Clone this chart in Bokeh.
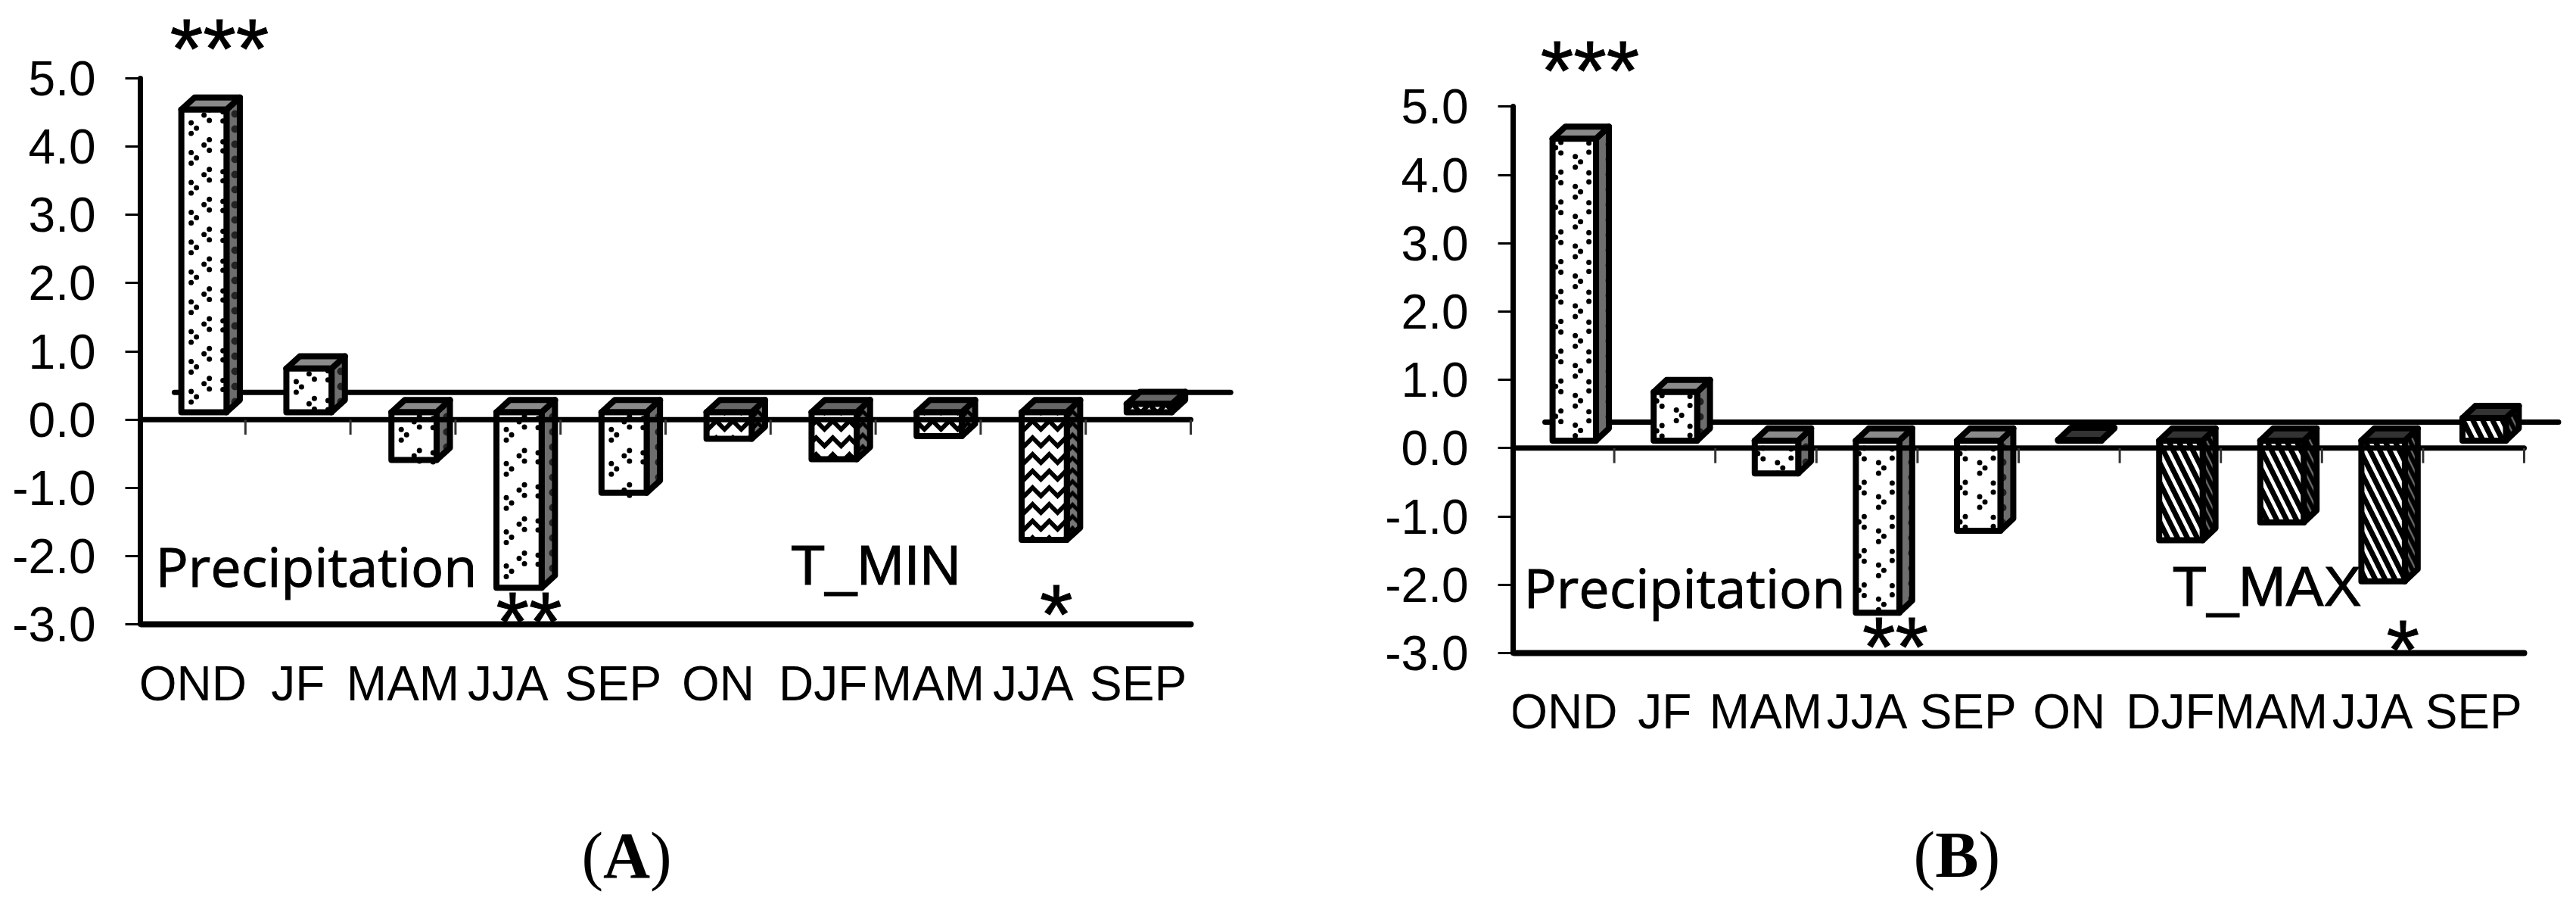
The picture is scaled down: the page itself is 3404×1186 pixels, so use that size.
from bokeh.plotting import figure
from bokeh.layouts import row
from bokeh.models import FixedTicker, Range1d, NumeralTickFormatter
from bokeh.core.properties import value
from bokeh.embed import file_html
from bokeh.resources import INLINE

seasons_a = ["OND", "JF", "MAM", "JJA", "SEP", "ON", "DJF", "MAM", "JJA", "SEP"]
values_a = [4.54, 0.75, -0.59, -2.46, -1.07, -0.28, -0.58, -0.24, -1.76, 0.23]
seasons_b = ["OND", "JF", "MAM", "JJA", "SEP", "ON", "DJF", "MAM", "JJA", "SEP"]
values_b = [4.53, 0.82, -0.37, -2.41, -1.21, 0.12, -1.35, -1.09, -1.95, 0.44]
y_ticks = [-3, -2, -1, 0, 1, 2, 3, 4, 5]

BASE = 0.11
PPU = 90.2
H = 1180
LIFT = 0.43  # em, renderer places the alphabetic baseline this far under the anchor
STAR = 112
ASCENT = 0.995


def lifted(y, size):
    return y + LIFT * size / PPU


def chart(seasons, values, cat_w, frame_left, zero_px, fig_w, back_y, back_x,
          t_hatch, t_scale, t_weight, t_top, stars, names, caption, dot_cols):
    p = figure(width=fig_w, height=H, output_backend="svg", toolbar_location=None,
               x_range=Range1d(0, (fig_w - frame_left) / cat_w),
               y_range=Range1d(-(H - zero_px) / PPU, zero_px / PPU),
               min_border_left=frame_left, min_border_right=0, min_border_top=0,
               min_border_bottom=0, outline_line_color=None,
               background_fill_color="white", border_fill_color="white")
    p.grid.visible = False

    p.xaxis.fixed_location = -3
    p.xaxis.bounds = (0, 10)
    p.xaxis.ticker = FixedTicker(ticks=[i + 0.5 for i in range(10)])
    p.xaxis.major_label_overrides = {i + 0.5: s for i, s in enumerate(seasons)}
    p.xaxis.major_label_text_font = "Liberation Sans"
    p.xaxis.major_label_text_font_size = "64px"
    p.xaxis.major_label_text_color = "black"
    p.xaxis.major_label_standoff = 36
    p.xaxis.major_tick_line_color = None
    p.xaxis.minor_tick_line_color = None
    p.xaxis.axis_line_width = 8
    p.xaxis.axis_line_color = "black"
    p.xaxis.axis_line_cap = "round"

    p.yaxis.bounds = (-3, 5)
    p.yaxis.ticker = FixedTicker(ticks=y_ticks)
    p.yaxis.formatter = NumeralTickFormatter(format="0.0")
    p.yaxis.major_label_text_font = "Liberation Sans"
    p.yaxis.major_label_text_font_size = "64px"
    p.yaxis.major_label_text_color = "black"
    p.yaxis.major_label_standoff = 39
    p.yaxis.major_tick_out = 20
    p.yaxis.major_tick_in = 0
    p.yaxis.major_tick_line_width = 3
    p.yaxis.major_tick_line_color = "black"
    p.yaxis.minor_tick_line_color = None
    p.yaxis.axis_line_width = 7
    p.yaxis.axis_line_color = "black"
    p.yaxis.axis_line_cap = "round"

    # back wall line of the 3-D floor
    p.segment(back_x[0], back_y, back_x[1], back_y, line_width=7, line_color="black", line_cap="round")

    L, R, DX, DY = 0.39, 0.82, 0.127, 0.178
    px_x, px_y = 1 / cat_w, 1 / PPU
    dx, dy = [], []
    for i, v in enumerate(values):
        x0, x1 = i + L, i + R
        lo, hi = (BASE, v) if v > 0 else (v, BASE)
        is_prec = i < 5
        top_col = "#8a8a8a" if is_prec else t_top
        kw = dict(line_color="black", line_width=8, line_join="round")
        if is_prec:
            p.patch([x1, x1 + DX, x1 + DX, x1], [lo, lo + DY, hi + DY, hi], fill_color="#6e6e6e",
                    hatch_pattern="dot", hatch_color="#222222", hatch_scale=20, hatch_weight=2, **kw)
        else:
            p.patch([x1, x1 + DX, x1 + DX, x1], [lo, lo + DY, hi + DY, hi], fill_color="#777777",
                    hatch_pattern=t_hatch, hatch_color="black", hatch_scale=t_scale * 0.7,
                    hatch_weight=max(1, t_weight - 1), **kw)
        p.patch([x0, x1, x1 + DX, x0 + DX], [hi, hi, hi + DY, hi + DY], fill_color=top_col, **kw)
        if is_prec:
            p.quad(left=x0, right=x1, bottom=lo, top=hi, fill_color="white", **kw)
            # sparse staggered pattern of the reference: small three-dot chevrons
            pitch = 0.437 if v > 0 else 0.5
            for rel, first, sgn in dot_cols:
                k = 0
                start = hi - (first if v > 0 else first + 0.06)
                yy = start
                while yy - 0.03 > lo:
                    cx = x0 + rel * px_x
                    if sgn == 0:
                        dx += [cx, cx]
                        dy += [yy + 6 * px_y, yy - 6 * px_y]
                    else:
                        dx += [cx, cx + sgn * 7 * px_x, cx]
                        dy += [yy + 7 * px_y, yy, yy - 7 * px_y]
                    k += 1
                    yy = start - pitch * k
        else:
            p.quad(left=x0, right=x1, bottom=lo, top=hi, fill_color="white",
                   hatch_pattern=t_hatch, hatch_color="black", hatch_scale=t_scale, hatch_weight=t_weight, **kw)
    p.scatter(dx, dy, size=7, marker="circle", fill_color="black", line_color="black", line_width=0)

    # zero line and its ticks, drawn over the bars
    p.segment(0, 0, 10, 0, line_width=7, line_color="black", line_cap="round")
    p.segment(list(range(1, 11)), [0] * 10, list(range(1, 11)), [-0.22] * 10,
              line_width=3, line_color="#333333")

    for text, x, y in stars:
        p.text([x], [y + ASCENT * STAR / PPU], text=[text], text_font=value("Liberation Sans"),
               text_font_size=f"{STAR}px", text_color="black", text_outline_color="black",
               text_align="center", text_baseline="top")
    for text, x, y, font, size in names:
        p.text([x], [lifted(y, size)], text=[text], text_font=value(font), text_font_size=f"{size}px",
               text_color="black", text_outline_color="black", text_align="left", text_baseline="alphabetic")
    for text, x, y, style in caption:
        p.text([x], [lifted(y, 86)], text=[text], text_font=value("Liberation Serif"), text_font_size="86px",
               text_font_style=style, text_color="black", text_align="left", text_baseline="alphabetic")
    return p


a = chart(seasons_a, values_a, 138.8, 185, 553.8, 1696, 0.40, (0.324, 10.38),
          "horizontal_wave", 22, 6, "#666666",
          [("***", 0.753, 4.89), ("**", 3.70, -3.50), ("*", 8.72, -3.39)],
          [("Precipitation", 0.144, -2.48, "Open Sans", 72), ("T_MIN", 6.19, -2.48, "Liberation Sans", 75)],
          [("(", 4.20, -6.79, "normal"), ("A", 4.406, -6.79, "bold"), (")", 4.853, -6.79, "normal")],
          [(13, 0.27, 1), (37, 0.08, -1), (55, 0.10, 0)])
b = chart(seasons_b, values_b, 133.6, 303, 591.3, 1704, 0.38, (0.315, 10.34),
          "left_diagonal_line", 26, 7, "#333333",
          [("***", 0.76, 4.98), ("**", 3.78, -3.46), ("*", 8.80, -3.50)],
          [("Precipitation", 0.105, -2.37, "Open Sans", 72), ("T_MAX", 6.52, -2.38, "Liberation Sans", 75)],
          [("(", 3.96, -6.37, "normal"), ("B", 4.174, -6.37, "bold"), (")", 4.603, -6.37, "normal")],
          [(11, 0.13, -1), (30, 0.34, 1), (48, 0.13, 0)])

page = row(a, b, spacing=0)
open("out.html", "w").write(file_html(page, INLINE))
